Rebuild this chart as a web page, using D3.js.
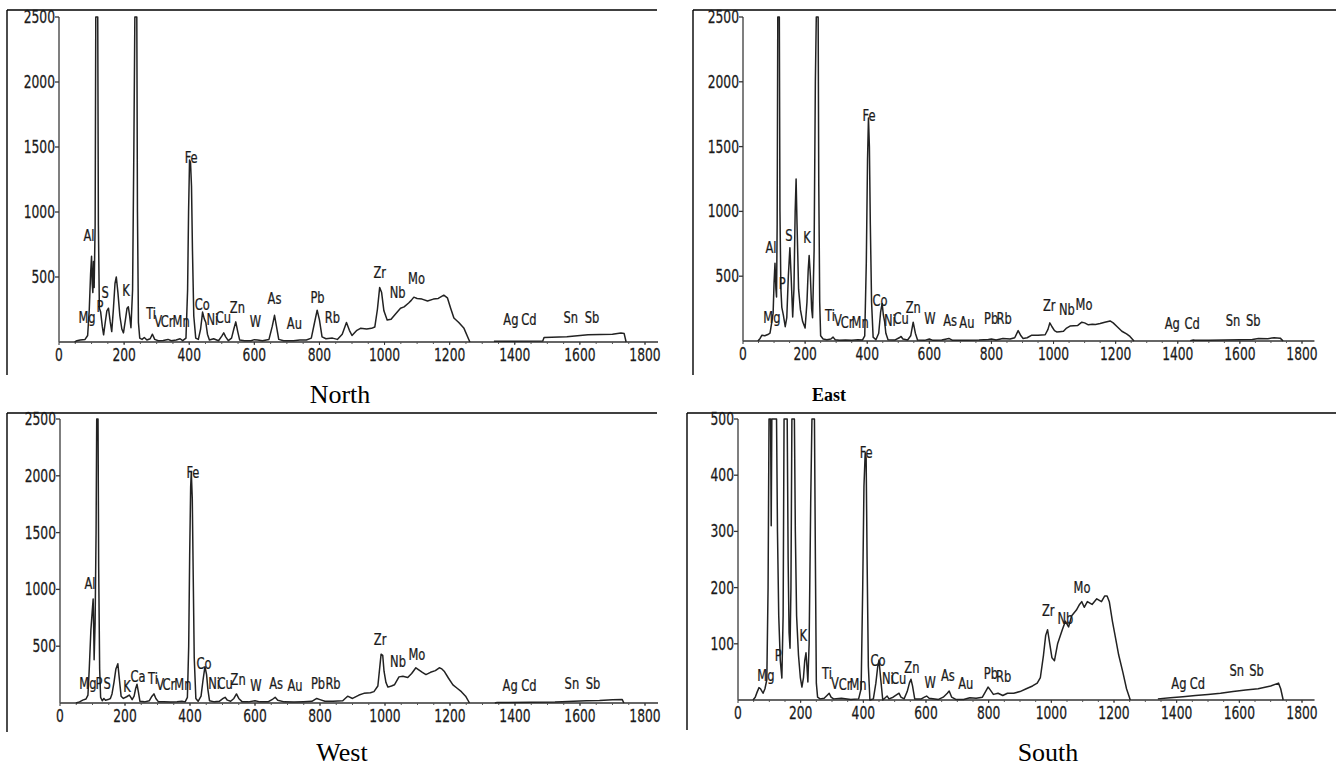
<!DOCTYPE html>
<html><head><meta charset="utf-8">
<script src="https://cdn.jsdelivr.net/npm/d3@7"></script>
<style>
html,body{margin:0;padding:0;background:#fff;}
svg{display:block;}
</style></head>
<body>
<svg id="chart" width="1336" height="771"></svg>
<script>
// ---------------- DATA ----------------
const xTickValues = [0,200,400,600,800,1000,1200,1400,1600,1800];
const yTicksHigh = [500,1000,1500,2000,2500];
const yTicksLow = [100,200,300,400,500];
const panelNames = ["North","East","West","South"];

// spectra: [channel, counts]; null = gap in trace
const northSpectrum = [[48,0],[55,10],[65,15],[80,20],[88,50],[93,250],[97,520],[100,660],[102,450],[104,380],[106,620],[108,420],[111,900],[113,2500],[119,2500],[121,900],[124,260],[128,230],[133,120],[137,55],[142,150],[147,240],[152,260],[157,160],[162,80],[167,250],[172,450],[176,500],[181,380],[187,200],[193,100],[198,70],[204,170],[209,260],[213,270],[217,200],[221,110],[226,400],[230,1500],[233,2500],[239,2500],[241,1000],[244,150],[248,30],[255,20],[262,35],[270,15],[280,25],[287,60],[294,20],[305,10],[320,12],[335,20],[345,10],[360,15],[372,25],[380,10],[390,30],[395,400],[398,1000],[401,1400],[404,1380],[407,1200],[410,700],[414,200],[420,30],[428,20],[435,100],[441,230],[446,180],[451,150],[456,60],[462,15],[475,25],[490,10],[500,45],[506,70],[512,40],[520,10],[530,30],[537,100],[543,155],[549,80],[555,15],[570,10],[590,10],[600,18],[610,15],[625,10],[645,20],[655,120],[662,205],[668,120],[675,20],[690,10],[720,10],[740,15],[760,15],[775,30],[785,150],[793,245],[800,170],[808,40],[820,25],[840,30],[855,20],[870,60],[883,150],[892,90],[900,50],[915,90],[926,105],[945,100],[960,105],[970,115],[978,250],[985,420],[991,380],[998,240],[1008,170],[1020,175],[1035,220],[1049,260],[1060,270],[1074,300],[1082,320],[1090,345],[1100,335],[1115,330],[1132,315],[1150,330],[1165,335],[1182,360],[1193,340],[1203,260],[1213,185],[1228,150],[1244,105],[1262,0],[1300,null],[1336,5],[1486,8],[1490,35],[1560,40],[1625,55],[1700,60],[1726,70],[1736,65],[1742,0]];

const eastSpectrum = [[48,0],[55,20],[61,45],[70,40],[80,50],[87,60],[93,150],[97,215],[100,450],[103,600],[106,400],[108,340],[110,900],[112,2500],[117,2500],[119,1000],[122,400],[125,260],[130,200],[136,110],[141,180],[146,500],[151,720],[155,500],[160,185],[164,400],[168,1000],[171,1250],[174,900],[179,400],[185,240],[192,150],[200,100],[206,300],[210,550],[213,660],[217,500],[221,250],[224,180],[229,700],[233,2000],[236,2500],[242,2500],[244,1200],[247,300],[250,40],[258,15],[270,10],[283,15],[290,30],[297,10],[310,5],[330,8],[350,5],[370,10],[385,8],[392,40],[397,600],[401,1400],[404,1720],[407,1500],[410,900],[414,300],[419,30],[428,10],[437,60],[443,220],[448,290],[452,200],[456,150],[460,60],[467,10],[490,8],[503,25],[509,35],[515,15],[530,8],[540,40],[548,145],[555,60],[562,8],[585,5],[600,15],[612,5],[640,8],[663,20],[675,5],[720,5],[760,8],[790,12],[800,15],[815,8],[837,20],[860,15],[875,25],[886,80],[895,40],[902,20],[915,25],[930,45],[950,45],[973,48],[982,90],[988,140],[995,110],[1003,80],[1010,70],[1020,72],[1032,75],[1042,100],[1053,115],[1065,118],[1078,120],[1091,145],[1100,140],[1112,125],[1125,130],[1135,128],[1150,135],[1165,145],[1182,155],[1192,140],[1205,110],[1220,75],[1235,55],[1246,35],[1259,0],[1300,null],[1440,3],[1450,8],[1455,5],[1500,6],[1550,8],[1600,10],[1640,12],[1660,20],[1690,18],[1710,25],[1730,22],[1739,0]];

const westSpectrum = [[49,0],[60,10],[70,25],[80,35],[86,70],[90,300],[95,640],[99,800],[102,915],[104,600],[105,380],[108,700],[111,1500],[113,2500],[117,2500],[119,1200],[122,300],[125,50],[130,20],[135,40],[140,25],[148,30],[155,40],[160,80],[166,180],[172,300],[178,345],[183,200],[188,60],[195,40],[205,55],[213,70],[218,50],[222,30],[228,60],[233,130],[237,165],[241,100],[246,15],[260,10],[275,20],[283,60],[289,80],[295,40],[303,10],[320,12],[340,8],[360,10],[375,15],[385,10],[392,50],[396,500],[399,1300],[402,1900],[404,2030],[407,1800],[410,1100],[413,400],[418,40],[425,15],[434,60],[440,200],[446,320],[451,250],[455,120],[460,20],[475,10],[490,15],[502,40],[508,50],[515,25],[525,15],[535,40],[543,80],[550,40],[560,12],[580,10],[600,20],[615,10],[640,10],[655,35],[662,50],[670,25],[690,10],[720,8],[750,12],[775,15],[790,40],[800,30],[815,15],[840,15],[870,20],[885,60],[900,40],[920,70],[935,85],[955,90],[966,100],[978,150],[988,430],[993,420],[997,280],[1003,180],[1009,140],[1020,150],[1029,160],[1043,230],[1055,235],[1070,225],[1082,260],[1095,310],[1105,290],[1115,270],[1126,250],[1140,270],[1155,285],[1167,310],[1175,300],[1182,280],[1195,220],[1209,160],[1222,130],[1235,100],[1248,60],[1260,0],[1300,null],[1338,0],[1345,5],[1370,5],[1450,6],[1523,8],[1545,12],[1580,15],[1620,20],[1660,22],[1700,28],[1730,30],[1735,0]];

const southSpectrum = [[48,0],[55,5],[61,14],[67,22],[72,20],[80,12],[86,20],[92,36],[96,200],[99,500],[104,500],[106,310],[108,500],[123,500],[126,300],[130,150],[135,70],[140,39],[144,150],[147,500],[157,500],[160,250],[163,120],[166,92],[169,200],[172,500],[180,500],[183,300],[187,150],[193,80],[199,40],[204,23],[209,40],[213,70],[217,84],[220,60],[223,32],[227,100],[232,350],[236,500],[244,500],[247,250],[250,30],[254,5],[262,2],[275,3],[284,8],[291,12],[297,5],[305,2],[330,3],[360,1],[385,2],[393,20],[398,200],[402,380],[406,440],[409,430],[412,250],[416,60],[421,0],[432,2],[440,30],[446,60],[450,71],[455,40],[462,0],[470,4],[476,7],[482,2],[495,5],[508,10],[514,12],[520,5],[530,2],[540,15],[547,30],[552,37],[557,25],[564,2],[585,2],[595,5],[602,7],[610,3],[640,1],[655,5],[668,12],[674,16],[682,5],[695,1],[720,1],[740,4],[760,3],[780,5],[790,15],[798,23],[805,18],[815,10],[830,12],[845,8],[860,12],[880,12],[900,15],[920,20],[940,25],[955,30],[965,40],[975,80],[982,115],[988,125],[995,100],[1002,75],[1010,70],[1020,100],[1035,125],[1045,140],[1055,130],[1065,150],[1080,160],[1090,170],[1097,175],[1105,165],[1115,175],[1130,170],[1145,180],[1160,175],[1170,185],[1178,185],[1185,175],[1195,140],[1205,110],[1215,80],[1228,50],[1240,20],[1252,0],[1300,null],[1340,2],[1380,4],[1420,6],[1460,8],[1500,10],[1540,12],[1580,15],[1620,18],[1660,20],[1700,25],[1725,30],[1732,20],[1740,0]];

// element labels: [symbol, channel, counts]
const northLabels = [["Mg",86,192],["Al",92,823],["P",126,270],["S",142,377],["K",206,400],["Ti",283,223],["V",305,154],["Cr",332,154],["Mn",375,154],["Fe",406,1423],["Co",440,285],["Ni",471,170],["Cu",505,185],["Zn",548,262],["W",603,154],["As",662,338],["Au",723,146],["Pb",794,346],["Rb",840,185],["Zr",985,538],["Nb",1040,377],["Mo",1098,492],["Ag",1388,170],["Cd",1443,170],["Sn",1572,192],["Sb",1637,192]];
const eastLabels = [["Mg",93,185],["Al",90,723],["P",126,446],["S",148,815],["K",206,800],["Ti",280,200],["V",306,162],["Cr",335,146],["Mn",377,146],["Fe",406,1740],["Co",441,315],["Ni",473,162],["Cu",509,177],["Zn",548,262],["W",602,177],["As",667,162],["Au",721,146],["Pb",799,177],["Rb",841,177],["Zr",986,277],["Nb",1043,246],["Mo",1098,285],["Ag",1382,138],["Cd",1446,138],["Sn",1578,162],["Sb",1643,162]];
const westLabels = [["Mg",86,176],["P",120,176],["S",145,176],["Al",92,1056],["K",206,141],["Ca",240,229],["Ti",286,220],["V",308,167],["Cr",335,167],["Mn",378,167],["Fe",409,2033],["Co",443,352],["Ni",474,176],["Cu",508,176],["Zn",548,211],["W",603,158],["As",665,176],["Au",723,150],["Pb",794,176],["Rb",840,176],["Zr",985,555],["Nb",1040,361],["Mo",1098,431],["Ag",1385,158],["Cd",1443,158],["Sn",1575,176],["Sb",1640,176]];
const southLabels = [["Mg",89,44],["P",128,80],["K",208,114],["Ti",284,48],["V",309,30],["Cr",342,27],["Mn",383,28],["Fe",409,441],["Co",447,71],["Ni",478,39],["Cu",513,39],["Zn",555,57],["W",613,32],["As",670,43],["Au",727,30],["Pb",807,48],["Rb",848,42],["Zr",990,160],["Nb",1045,145],["Mo",1098,200],["Ag",1407,30],["Cd",1466,30],["Sn",1592,52],["Sb",1655,52]];

// ---------------- LAYOUT ----------------
const FONT = "'Liberation Sans Narrow','Arial Narrow','DejaVu Sans Condensed',sans-serif";
const panels = [
  {name:panelNames[0], data:northSpectrum, labels:northLabels, yTicks:yTicksHigh, yMax:2500,
   x0:59, x1:645, y0:342, y1:17, frame:{x:7,y:10,w:650,h:365}, cap:{x:340,y:403,size:26,bold:false}},
  {name:panelNames[1], data:eastSpectrum, labels:eastLabels, yTicks:yTicksHigh, yMax:2500,
   x0:743, x1:1302, y0:341, y1:17, frame:{x:693,y:10,w:643,h:365}, cap:{x:829,y:401,size:18,bold:true}},
  {name:panelNames[2], data:westSpectrum, labels:westLabels, yTicks:yTicksHigh, yMax:2500,
   x0:60, x1:645, y0:703, y1:419, frame:{x:7,y:413,w:650,h:319}, cap:{x:342,y:761,size:26,bold:false}},
  {name:panelNames[3], data:southSpectrum, labels:southLabels, yTicks:yTicksLow, yMax:500,
   x0:738, x1:1302, y0:700, y1:419, frame:{x:687,y:413,w:649,h:317}, cap:{x:1048,y:761,size:26,bold:false}}
];

const svg = d3.select("#chart");

function condText(g, txt, x, y, size, anchor, sx){
  return g.append("text")
    .attr("transform", `translate(${x},${y}) scale(${sx},1)`)
    .attr("text-anchor", anchor)
    .attr("font-family", FONT)
    .attr("font-size", size)
    .attr("fill", "#1a1a1a")
    .attr("stroke", "#1a1a1a").attr("stroke-width", 0.25)
    .text(txt);
}

panels.forEach(p => {
  const g = svg.append("g");
  // frame (top + left border)
  g.append("line").attr("x1",p.frame.x).attr("x2",p.frame.x+p.frame.w).attr("y1",p.frame.y).attr("y2",p.frame.y)
    .attr("stroke","#000").attr("stroke-width",1.6);
  g.append("line").attr("x1",p.frame.x).attr("x2",p.frame.x).attr("y1",p.frame.y).attr("y2",p.frame.y+p.frame.h)
    .attr("stroke","#000").attr("stroke-width",1.4);

  const x = d3.scaleLinear().domain([0,1800]).range([p.x0,p.x1]);
  const y = d3.scaleLinear().domain([0,p.yMax]).range([p.y0,p.y1]);

  // x axis line (extends a little beyond 1800)
  g.append("line").attr("x1",x(0)).attr("x2",x(1840)).attr("y1",y(0)).attr("y2",y(0))
    .attr("stroke","#333").attr("stroke-width",1.3);
  // minor ticks
  d3.range(50,1850,50).forEach(v=>{
    g.append("line").attr("x1",x(v)).attr("x2",x(v)).attr("y1",y(0)).attr("y2",y(0)+2)
      .attr("stroke","#555").attr("stroke-width",1);
  });
  xTickValues.forEach(v=>{
    g.append("line").attr("x1",x(v)).attr("x2",x(v)).attr("y1",y(0)).attr("y2",y(0)+3)
      .attr("stroke","#333").attr("stroke-width",1);
    condText(g, String(v), x(v), y(0)+19, 18, "middle", 0.76);
  });
  // y axis
  g.append("line").attr("x1",x(0)).attr("x2",x(0)).attr("y1",y(0)).attr("y2",y(p.yMax))
    .attr("stroke","#555").attr("stroke-width",1.5);
  p.yTicks.forEach(v=>{
    g.append("line").attr("x1",x(0)-4).attr("x2",x(0)).attr("y1",y(v)).attr("y2",y(v))
      .attr("stroke","#333").attr("stroke-width",1.3);
    condText(g, String(v), x(0)-4, y(v)+6, 18, "end", 0.76);
  });

  // spectrum
  const line = d3.line().defined(d=>d[1]!==null).x(d=>x(d[0])).y(d=>y(Math.min(d[1],p.yMax)));
  g.append("path").datum(p.data).attr("d",line).attr("fill","none")
    .attr("stroke","#222").attr("stroke-width",1.5).attr("stroke-linejoin","round");

  // element labels
  p.labels.forEach(l=>{
    condText(g, l[0], x(l[1]), y(l[2])+5.5, 15, "middle", 0.85);
  });

  // caption
  g.append("text").attr("x",p.cap.x).attr("y",p.cap.y).attr("text-anchor","middle")
    .attr("font-family","'Liberation Serif','Times New Roman',serif")
    .attr("font-size",p.cap.size).attr("font-weight",p.cap.bold?"bold":"normal")
    .attr("fill","#000").text(p.name);
});
</script>
</body></html>
